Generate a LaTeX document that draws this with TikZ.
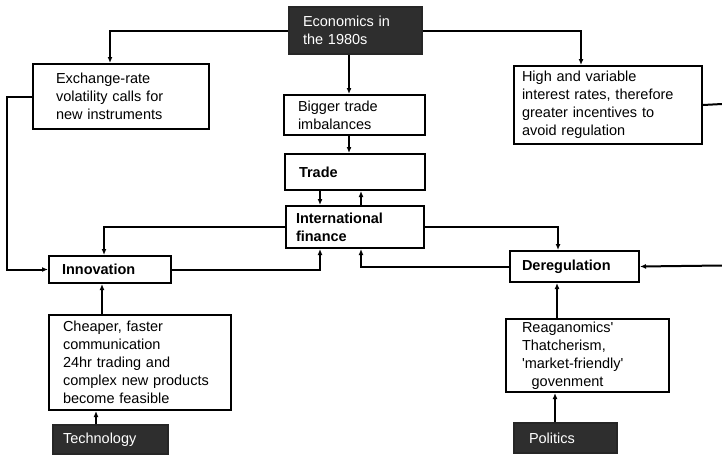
\documentclass[tikz,border=0pt]{standalone}
\usepackage{fontspec}
\setmainfont{Liberation Sans}
\usetikzlibrary{arrows.meta}

\begin{document}
\begin{tikzpicture}[x=1pt, y=-1pt,
				>={Latex[length=6pt,width=5pt]},
				box/.style = {draw, line width=2pt, anchor=north west, align=left,
					inner ysep=0pt, font=\fontsize{14.5}{18}\selectfont},
				boldbox/.style = {box, font=\fontsize{14.5}{18}\selectfont\bfseries},
				darkbox/.style = {box, draw=black!85, fill=black!82, text=white},
				link/.style = {line width=2pt, ->}
			]
			\useasboundingbox (0,0) rectangle (722,455);
			% boxes
			\node[darkbox, inner xsep=14pt, text width=105pt, minimum height=47pt] (econ) at (288,6) {Economics in\\the 1980s};
			\node[box, inner xsep=23pt, text width=130pt, minimum height=65pt] (exch) at (32,63) {Exchange-rate\\volatility calls for\\new instruments};
			\node[box, inner xsep=14pt, text width=113pt, minimum height=40pt] (bigger) at (283,94) {Bigger trade\\imbalances};
			\node[box, inner xsep=8pt, text width=172pt, minimum height=78pt] (high) at (513,65) {High and variable\\interest rates, therefore\\greater incentives to\\avoid regulation};
			\node[boldbox, inner xsep=14pt, text width=112pt, minimum height=36pt] (trade) at (284,153) {Trade};
			\node[boldbox, inner xsep=10pt, text width=118pt, minimum height=42pt] (intfin) at (285,205) {International\\finance};
			\node[boldbox, inner xsep=13pt, text width=96pt, minimum height=27pt] (innov) at (48,255) {Innovation};
			\node[boldbox, inner xsep=12pt, text width=105pt, minimum height=31pt] (dereg) at (509,250) {Deregulation};
			\node[box, inner xsep=14pt, text width=154pt, minimum height=95pt] (cheaper) at (48,314) {Cheaper, faster\\communication\\24hr trading and\\complex new products\\become feasible};
			\node[box, inner xsep=16pt, text width=131pt, minimum height=73pt] (reagan) at (505,318) {Reaganomics\textquotesingle\\Thatcherism,\\\textquotesingle market-friendly\textquotesingle\\\ \ govenment};
			\node[darkbox, inner xsep=10pt, text width=95pt, minimum height=29pt] (tech) at (52,424) {Technology};
			\node[darkbox, inner xsep=15pt, text width=73pt, minimum height=30pt] (politics) at (513,422) {Politics};
			% loose ends at the right edge
			\coordinate (rtop) at (722,104);
			\coordinate (rbot) at (722,265.5);
			% connectors
			\draw[link] (econ.west) -| (exch.north -| 110,0);
			\draw[link] (econ.east) -| (high.north -| 581,0);
			\draw[link] (econ.south -| 349,0) -- (bigger.north -| 349,0);
			\draw[link] (bigger.south -| 349,0) -- (trade.north -| 349,0);
			\draw[link] (trade.south -| 320,0) -- (intfin.north -| 320,0);
			\draw[link] (intfin.north -| 361,0) -- (trade.south -| 361,0);
			\draw[link] (intfin.west) -| (innov.north -| 104,0);
			\draw[link] (innov.east) -| (intfin.south -| 320,0);
			\draw[link] (dereg.west) -| (intfin.south -| 361,0);
			\draw[link] (intfin.east) -| (dereg.north -| 558,0);
			\draw[link] (exch.west) -- ++(-25,0) |- (innov.west);
			\draw[line width=2pt] (high.east) -- (rtop);
			\draw[link] (rbot) -- (dereg.east);
			\draw[link] (cheaper.north -| 102,0) -- (innov.south -| 102,0);
			\draw[link] (tech.north -| 96,0) -- (cheaper.south -| 96,0);
			\draw[link] (reagan.north -| 557,0) -- (dereg.south -| 557,0);
			\draw[link] (politics.north -| 555,0) -- (reagan.south -| 555,0);
		\end{tikzpicture}
\end{document}
